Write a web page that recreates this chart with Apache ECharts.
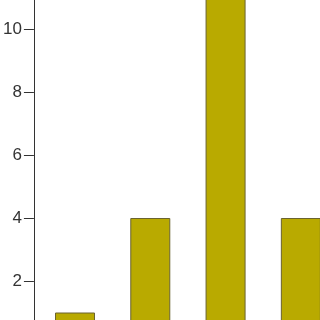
<!DOCTYPE html>
<html><head><meta charset="utf-8">
<script src="https://cdn.jsdelivr.net/npm/echarts@6/dist/echarts.min.js"></script>
<style>html,body{margin:0;padding:0;background:#fff;overflow:hidden;width:320px;height:320px}
#c{position:absolute;left:0;top:-34px;width:340px;height:378px}</style>
</head><body><div id="c"></div>
<script>
var categories = ['A', 'B', 'C', 'D'];
var values = [1, 4, 11, 4];
var yTicks = [0, 2, 4, 6, 8, 10, 12];

var chart = echarts.init(document.getElementById('c'), null, {renderer: 'canvas'});
chart.setOption({
  animation: false,
  grid: {left: 31, right: 1.5, top: 0, bottom: 0, containLabel: false},
  xAxis: {
    type: 'value', min: -0.546, max: 3.5,
    splitLine: {show: false},
    axisLine: {show: false}, axisTick: {show: false}, axisLabel: {show: false}
  },
  yAxis: {
    type: 'value', min: yTicks[0], max: yTicks[yTicks.length - 1], interval: 2,
    splitLine: {show: false},
    axisLine: {show: true, onZero: false, lineStyle: {color: '#333', width: 1}},
    axisTick: {show: true, length: 10, lineStyle: {color: '#333', width: 1}},
    axisLabel: {margin: 12, color: '#333', fontSize: 17, fontFamily: 'Liberation Sans',
      formatter: function (v) { return (v === 0 || v === 12) ? '' : String(v); }}
  },
  series: [{
    type: 'bar', barWidth: 40,
    data: values.map(function (v, i) { return [i, v]; }),
    itemStyle: {color: '#B9AA00', borderColor: '#6B6330', borderWidth: 1}
  }]
});
</script></body></html>
